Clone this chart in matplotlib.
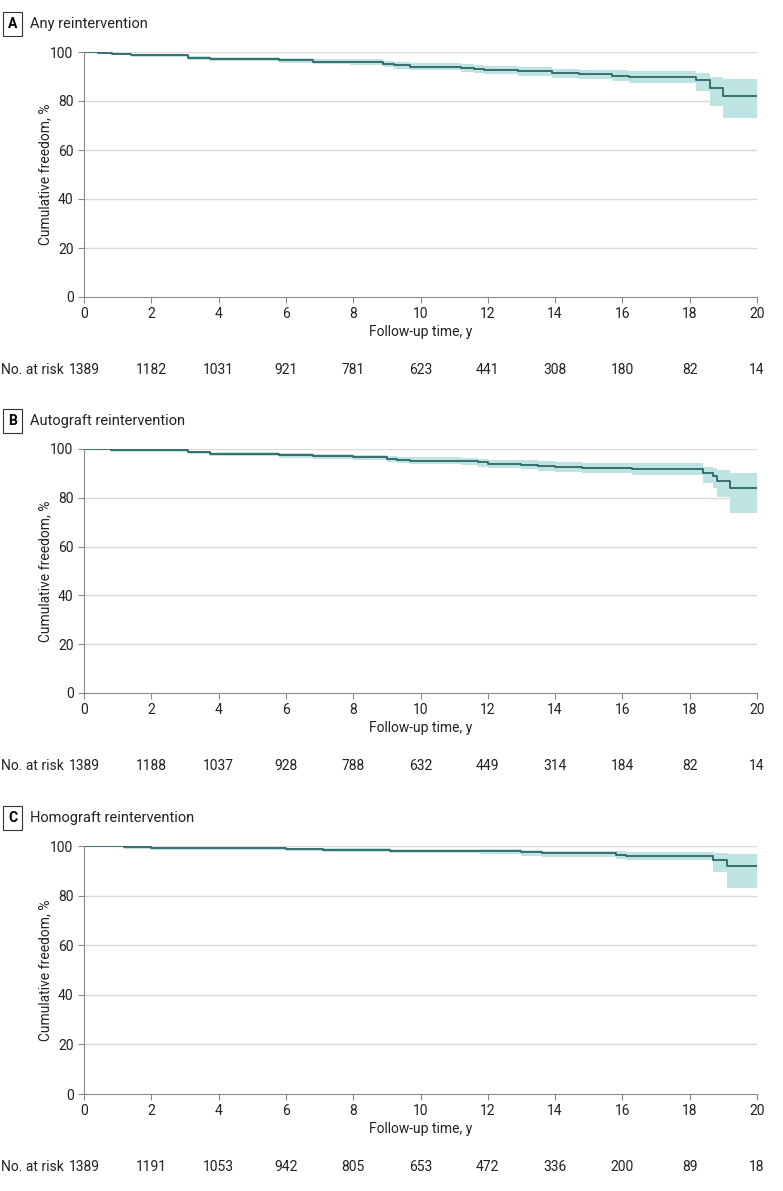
import matplotlib
matplotlib.use("Agg")
import matplotlib.pyplot as plt
import matplotlib.transforms as mtransforms

plt.rcParams['font.family'] = ['Roboto', 'DejaVu Sans']

# Panel A: any reintervention
t_a = [0, 0.42, 0.82, 1.41, 3.1, 3.75, 5.8, 6.8, 7.9, 8.9, 9.2, 9.7, 11.2, 11.6, 11.9, 12.9,
       13.9, 14.7, 15.7, 16.2, 18.2, 18.6, 19.0, 20]
s_a = [100, 99.6, 99.2, 98.6, 97.6, 97.2, 96.6, 96.1, 95.8, 95.1, 94.5, 94.0, 93.6, 93.1, 92.7, 92.2,
       91.4, 90.9, 90.4, 89.9, 88.6, 85.2, 82.2, 82.2]
lo_a = [100, 99.3, 98.8, 98.0, 96.8, 96.3, 95.5, 94.9, 94.5, 93.7, 93.0, 92.5, 92.0, 91.4, 90.9, 90.3,
        89.5, 88.8, 88.0, 87.2, 84.0, 78.0, 73.0, 73.0]
hi_a = [100, 99.9, 99.6, 99.1, 98.3, 98.0, 97.6, 97.2, 97.0, 96.4, 95.9, 95.4, 95.1, 94.7, 94.4, 94.0,
        93.2, 92.8, 92.6, 92.4, 91.4, 89.8, 88.8, 88.8]
risk_a = [1389, 1182, 1031, 921, 781, 623, 441, 308, 180, 82, 14]

# Panel B: autograft reintervention
t_b = [0, 0.8, 3.1, 3.75, 5.8, 6.8, 8.0, 9.0, 9.3, 9.7, 11.2, 11.7, 12.0, 13.0, 13.5, 14.0, 14.8,
       16.3, 18.4, 18.7, 18.8, 19.2, 20]
s_b = [100, 99.4, 98.7, 98.1, 97.4, 97.0, 96.6, 96.1, 95.6, 95.2, 95.0, 94.5, 93.9, 93.5, 93.0, 92.6, 92.2,
       91.7, 90.2, 89.1, 86.8, 84.0, 84.0]
lo_b = [100, 98.9, 98.0, 97.3, 96.4, 95.9, 95.4, 94.8, 94.2, 93.7, 93.4, 92.8, 92.1, 91.6, 91.0, 90.5, 90.0,
        89.2, 86.0, 84.0, 80.3, 73.9, 73.9]
hi_b = [100, 99.8, 99.3, 98.8, 98.3, 98.0, 97.7, 97.3, 96.9, 96.6, 96.5, 96.1, 95.6, 95.3, 94.9, 94.6, 94.3,
        94.1, 92.8, 92.2, 91.2, 90.1, 90.1]
risk_b = [1389, 1188, 1037, 928, 788, 632, 449, 314, 184, 82, 14]

# Panel C: homograft reintervention
t_c = [0, 1.2, 2.0, 6.0, 7.1, 9.1, 11.8, 13.0, 13.6, 15.8, 16.1, 18.7, 19.1, 20]
s_c = [100, 99.4, 99.0, 98.7, 98.4, 98.1, 97.8, 97.4, 97.0, 96.5, 96.1, 94.3, 92.0, 92.0]
lo_c = [100, 98.9, 98.4, 97.9, 97.5, 97.1, 96.7, 96.1, 95.6, 94.8, 94.2, 89.5, 83.0, 83.0]
hi_c = [100, 99.8, 99.6, 99.3, 99.1, 98.9, 98.7, 98.4, 98.1, 97.8, 97.6, 97.0, 96.6, 96.6]
risk_c = [1389, 1191, 1053, 942, 805, 653, 472, 336, 200, 89, 18]

x_ticks = list(range(0, 21, 2))
panels = [
    ("A", "Any reintervention", t_a, s_a, lo_a, hi_a, risk_a),
    ("B", "Autograft reintervention", t_b, s_b, lo_b, hi_b, risk_b),
    ("C", "Homograft reintervention", t_c, s_c, lo_c, hi_c, risk_c),
]

W, H = 783, 1191
fig = plt.figure(figsize=(W / 100, H / 100), dpi=100)

# axes top/bottom in pixels
boxes = [(52, 297), (449, 693), (846, 1094)]
title_y = [24, 421, 818]

line_col = '#2e6664'
band_col = '#bde3e3'
spine_col = '#8a8a8a'
fs = 10

for (letter, title, t, s, lo, hi, risk), (top, bot), ty in zip(panels, boxes, title_y):
    h = bot - top
    ax = fig.add_axes([84 / W, 1 - bot / H, 673 / W, h / H])
    ax.fill_between(t, lo, hi, step='post', color=band_col, lw=0)
    ax.step(t, s, where='post', color=line_col, lw=1.3)
    ax.set_xlim(0, 20)
    ax.set_ylim(0, 100)
    ax.set_xticks(x_ticks)
    ax.set_yticks([0, 20, 40, 60, 80, 100])
    for y in [20, 40, 60, 80, 100]:
        ax.axhline(y, color='#d9d9d9', lw=1, zorder=0)
    for sp in ['top', 'right']:
        ax.spines[sp].set_visible(False)
    for sp in ['left', 'bottom']:
        ax.spines[sp].set_color(spine_col)
    ax.tick_params(colors=spine_col, labelcolor='#222222', labelsize=fs, length=4)
    ax.set_xlabel("Follow-up time, y", fontsize=fs, color='#222222')
    ax.xaxis.set_label_coords(0.5, -28 / h)
    ax.set_ylabel("Cumulative freedom, %", fontsize=fs, color='#222222')
    ax.yaxis.set_label_coords(-0.047, 0.5)

    # at-risk row
    ry = -(73 / h)
    for xv, n in zip(x_ticks, risk):
        ax.text(xv, ry, str(n), transform=ax.get_xaxis_transform(),
                ha='center', va='center', fontsize=fs, color='#222222')
    trans = mtransforms.blended_transform_factory(fig.transFigure, ax.transAxes)
    ax.text(1 / W, ry, "No. at risk", transform=trans, ha='left', va='center',
            fontsize=fs, color='#222222')

    fig.text(12.5 / W, 1 - ty / H, letter, ha='center', va='center', fontsize=fs, fontweight='bold',
             bbox=dict(boxstyle='square,pad=0.35', fc='white', ec='#333333', lw=0.8))
    fig.text(30 / W, 1 - ty / H, title, ha='left', va='center', fontsize=10.5, color='#222222')

fig.savefig("out.png", dpi=100)
